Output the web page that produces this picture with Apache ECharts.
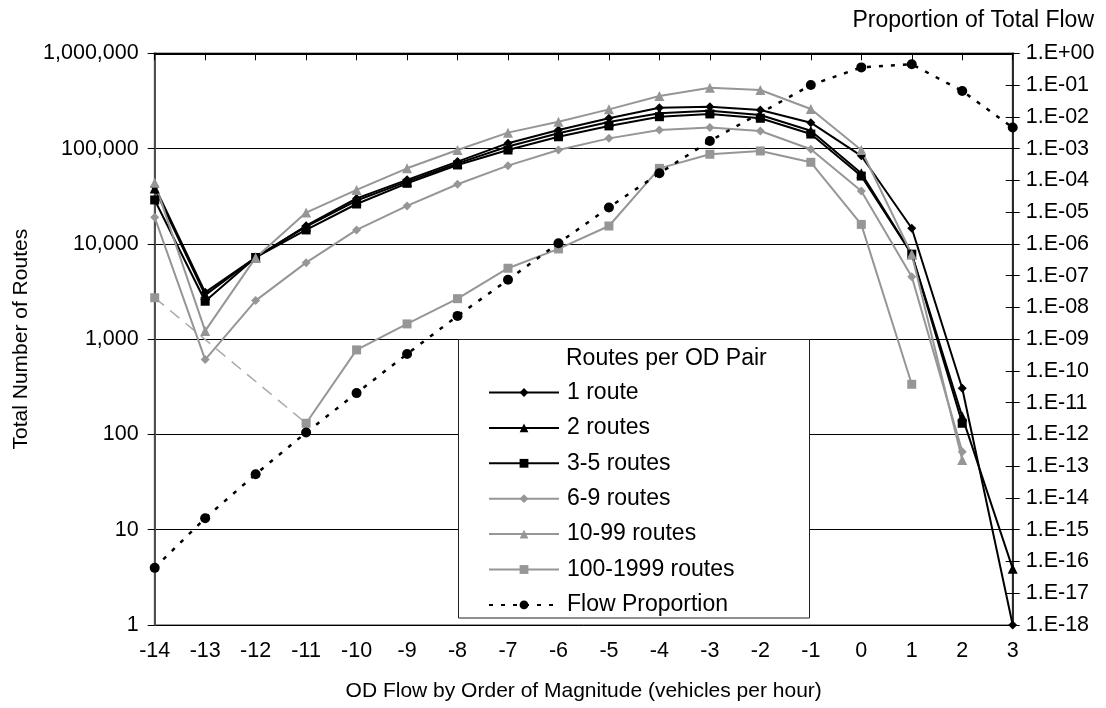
<!DOCTYPE html>
<html>
<head>
<meta charset="utf-8">
<script src="https://cdn.jsdelivr.net/npm/echarts@6/dist/echarts.min.js"></script>
<style>
html,body{margin:0;padding:0;background:#fff;}
#chart{width:1106px;height:708px;}
</style>
</head>
<body>
<div id="chart"></div>
<script>
// ---- data ----
const categories = ['-14','-13','-12','-11','-10','-9','-8','-7','-6','-5','-4','-3','-2','-1','0','1','2','3'];
const route1   = [40000, 3100, 7200, 15500, 30000, 47000, 73000, 114000, 157000, 208000, 268000, 275000, 254000, 187000, 84000, 14600, 305, 1];
const route2   = [38000, 2900, 7200, 15200, 28500, 45000, 70000, 105000, 145000, 190000, 235000, 250000, 225000, 154000, 55000, 7800, 154, 3.9];
const route3_5 = [28900, 2500, 7200, 14000, 26200, 43200, 67300, 96600, 133000, 173000, 216000, 231000, 208000, 142000, 51500, 7800, 131, null];
const route6_9 = [19000, 610, 2540, 6350, 14000, 25000, 42200, 66200, 96600, 128000, 157000, 166000, 153000, 98400, 35900, 4530, 66, null];
const route10_99 = [43900, 1220, 7160, 21300, 36800, 62100, 96600, 147000, 191000, 258000, 357000, 436000, 412000, 260000, 96700, 7780, 54, null];
const route100_1999 = [2720, null, null, 131, 771, 1445, 2660, 5550, 8850, 15400, 62000, 87200, 94400, 71800, 16000, 336, null, null];
const flowProportion = [6.3e-17, 2.3e-15, 5.6e-14, 1.15e-12, 2e-11, 3.4e-10, 5.4e-9, 7.4e-8, 1.05e-6, 1.4e-5, 1.67e-4, 1.74e-3, null, 0.1, 0.36, 0.45, 0.065, 0.0046];
const leftTicks = [1, 10, 100, 1000, 10000, 100000, 1000000];
const rightTickExponents = [-18, 0];

// ---- helpers ----
function bridgeGaps(arr){
  // keep only the values that bound an interior run of missing points
  const out = arr.map(() => null);
  for (let i = 0; i < arr.length; i++) {
    if (arr[i] != null && i + 1 < arr.length && arr[i + 1] == null) {
      let j = i + 1;
      while (j < arr.length && arr[j] == null) j++;
      if (j < arr.length) { out[i] = arr[i]; out[j] = arr[j]; }
    }
  }
  return out;
}
const FONT = 'Liberation Sans';
const BLACK = '#000000';
const GRAY = '#969696';
const AXIS_FS = 21.5;
const LEG_FS = 23;
const fmtLeft = v => Number(v).toLocaleString('en-US');
const fmtRight = v => { const e = Math.round(v); const a = Math.abs(e); return '1.E' + (e >= 0 ? '+' : '-') + (a < 10 ? '0' + a : '' + a); };

function lineSeries(name, data, color, symbol, size){
  return {
    name, type: 'line', data, yAxisIndex: 0,
    symbol, symbolSize: size, showSymbol: true,
    lineStyle: { color, width: 2 },
    itemStyle: { color, borderWidth: 0 },
    emphasis: { disabled: true }, animation: false
  };
}

const chart = echarts.init(document.getElementById('chart'), null, { renderer: 'canvas' });
const gridL = 154.7, gridT = 53.3, gridR = 93.3, gridB = 83;

chart.setOption({
  backgroundColor: '#ffffff',
  animation: false,
  textStyle: { fontFamily: FONT, color: BLACK },
  title: {
    text: 'Proportion of Total Flow', right: 7, top: 4,
    textStyle: { fontFamily: FONT, fontSize: 23, fontWeight: 'normal', color: BLACK }
  },
  grid: { left: gridL, right: gridR, top: gridT, bottom: gridB, show: true, borderColor: '#9a9a9a', borderWidth: 2, backgroundColor: 'transparent' },
  xAxis: {
    type: 'category', data: categories, boundaryGap: false,
    name: 'OD Flow by Order of Magnitude (vehicles per hour)', nameLocation: 'middle', nameGap: 56,
    nameTextStyle: { fontFamily: FONT, fontSize: 21, color: BLACK },
    axisLine: { lineStyle: { color: BLACK, width: 2 } },
    axisTick: { show: true, alignWithLabel: true, length: 7, lineStyle: { color: BLACK, width: 1 } },
    axisLabel: { fontFamily: FONT, fontSize: AXIS_FS, color: BLACK, margin: 15, interval: 0 },
    splitLine: { show: false }
  },
  yAxis: [
    {
      type: 'log', logBase: 10, min: leftTicks[0], max: leftTicks[leftTicks.length - 1], position: 'left',
      name: 'Total Number of Routes', nameLocation: 'middle', nameGap: 121, nameRotate: 90,
      nameTextStyle: { fontFamily: FONT, fontSize: 21, color: BLACK },
      axisLine: { show: true, lineStyle: { color: '#505050', width: 2 } },
      axisTick: { show: true, inside: false, length: 7, lineStyle: { color: BLACK, width: 1 } },
      axisLabel: { fontFamily: FONT, fontSize: AXIS_FS, color: BLACK, margin: 16, formatter: fmtLeft },
      splitLine: { show: true, lineStyle: { color: [BLACK, BLACK, BLACK, BLACK, BLACK, BLACK, '#9a9a9a'], width: 1 } },
      minorTick: { show: false }
    },
    {
      type: 'value', min: rightTickExponents[0], max: rightTickExponents[1], interval: 1, position: 'right',
      axisLine: { show: true, lineStyle: { color: BLACK, width: 1.5 } },
      axisTick: { show: true, inside: false, length: 7, lineStyle: { color: BLACK, width: 1 } },
      axisLabel: { fontFamily: FONT, fontSize: AXIS_FS, color: BLACK, margin: 13, formatter: fmtRight },
      splitLine: { show: false }
    },
    {
      type: 'value', min: rightTickExponents[0], max: rightTickExponents[1], interval: 1, position: 'right',
      axisLine: { show: false },
      axisTick: { show: true, inside: true, length: 7, lineStyle: { color: BLACK, width: 1 } },
      axisLabel: { show: false },
      splitLine: { show: false }
    }
  ],
  legend: {
    orient: 'vertical', left: 488, top: 381, padding: 0,
    itemWidth: 70, itemHeight: 11, itemGap: 12.4,
    textStyle: { fontFamily: FONT, fontSize: LEG_FS, color: BLACK, padding: [0, 0, 0, 3] },
    data: ['1 route', '2 routes', '3-5 routes', '6-9 routes', '10-99 routes', '100-1999 routes', 'Flow Proportion'],
    selectedMode: false, z: 10
  },
  graphic: [
    { type: 'rect', z: 5, shape: { x: 458.5, y: 339.5, width: 351, height: 278.5 }, style: { fill: '#ffffff', stroke: '#202020', lineWidth: 1 } },
    { type: 'text', z: 11, style: { x: 566, y: 359, text: 'Routes per OD Pair', font: LEG_FS + 'px "' + FONT + '"', fill: BLACK, verticalAlign: 'middle' } }
  ],
  series: [
    lineSeries('1 route', route1, BLACK, 'diamond', 9),
    lineSeries('2 routes', route2, BLACK, 'triangle', 10),
    lineSeries('3-5 routes', route3_5, BLACK, 'rect', 9),
    lineSeries('6-9 routes', route6_9, GRAY, 'diamond', 9),
    lineSeries('10-99 routes', route10_99, GRAY, 'triangle', 10),
    lineSeries('100-1999 routes', route100_1999, GRAY, 'rect', 9),
    {
      name: 'gap', type: 'line', data: bridgeGaps(route100_1999), yAxisIndex: 0, connectNulls: true,
      symbol: 'none', lineStyle: { color: '#a8a8a8', width: 1.5, type: [12, 8] }, emphasis: { disabled: true }, z: 1
    },
    {
      name: 'Flow Proportion', type: 'line', yAxisIndex: 1, connectNulls: true,
      data: flowProportion.map(v => v == null ? null : Math.log10(v)),
      symbol: 'circle', symbolSize: 10, showSymbol: true,
      lineStyle: { color: BLACK, width: 2.5, type: [4, 8] },
      itemStyle: { color: BLACK },
      emphasis: { disabled: true }
    }
  ]
});
</script>
</body>
</html>
